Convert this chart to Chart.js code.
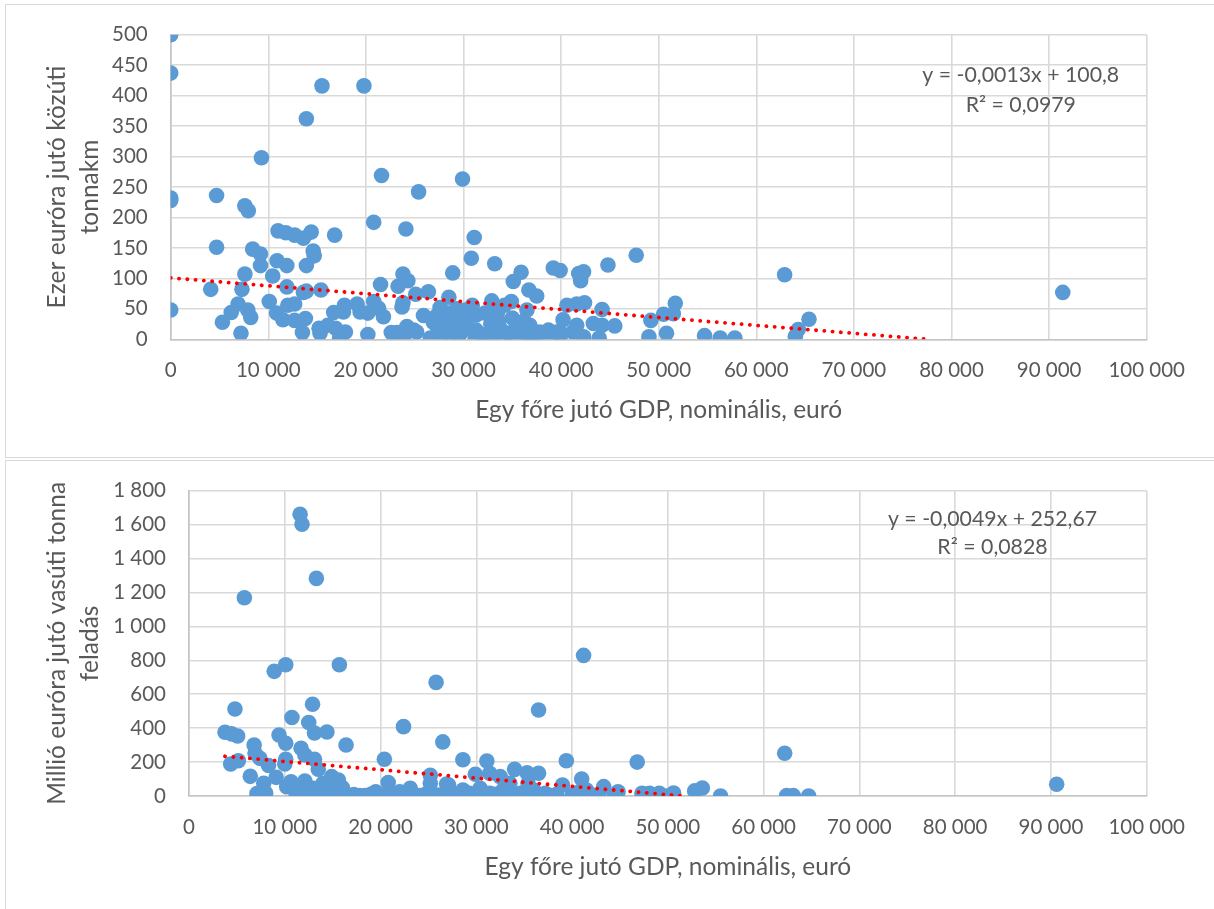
<!DOCTYPE html>
<html>
<head>
<meta charset="utf-8">
<script src="https://cdn.jsdelivr.net/npm/chart.js@4.4.1/dist/chart.umd.min.js"></script>
<style>
  html, body { margin: 0; padding: 0; background: #ffffff; }
  body { width: 1214px; height: 909px; overflow: hidden; position: relative; }
  .frame { position: absolute; border: 1.5px solid #d9d9d9; box-sizing: border-box; }
  .holder { position: absolute; left: 0; }
  canvas { display: block; }
</style>
</head>
<body>
<div class="frame" style="left:5px; top:4px; width:1240px; height:454px;"></div>
<div class="frame" style="left:5px; top:460px; width:1240px; height:470px;"></div>
<div class="holder" style="top:0; width:1214px; height:457px;"><canvas id="road" width="1214" height="457"></canvas></div>
<div class="holder" style="top:461px; width:1214px; height:448px;"><canvas id="rail" width="1214" height="448"></canvas></div>
<script>
// ---- Közúti áruszállítás: GDP/fő (euró) és ezer euróra jutó tonnakm ----
const roadGdp = [
  0, 0, 0, 0, 0, 4100, 4700, 4700, 5300, 6200, 6900, 7200, 7300, 7600, 7950, 7600, 7900, 8200, 8400, 9200,
  9200, 9300, 10100, 10450, 10850, 10900, 11000, 11500, 11800, 11900, 11900, 12000, 12700, 12700, 12700, 13500, 13600, 13600, 13800, 13900,
  13900, 13900, 14400, 14600, 14700, 15200, 15300, 15400, 15500, 16100, 16700, 16800, 16900, 17300, 17700, 17800, 17900, 19100, 19400, 19800,
  20200, 20200, 20800, 20800, 21300, 21500, 21600, 21800, 22600, 23200, 23300, 23700, 23800, 23800, 24100, 24100, 24200, 24300, 24900, 25100,
  25200, 25400, 25900, 26400, 26600, 26900, 27200, 27300, 27600, 27800, 28000, 28400, 28500, 28600, 28600, 28900, 29000, 29300, 29300, 29500,
  29800, 29900, 30000, 30200, 30400, 30800, 30900, 31100, 31200, 31300, 31300, 31800, 32200, 32400, 32800, 32900, 33000, 33200, 33500, 33600,
  33900, 34200, 34200, 34600, 34900, 34900, 35000, 35100, 35400, 35700, 35800, 35900, 36100, 36200, 36500, 36500, 36700, 36800, 36800, 37300,
  37500, 37800, 38000, 38700, 39200, 39200, 39500, 39900, 39900, 40000, 40200, 40600, 41200, 41600, 41600, 41800, 42000, 42300, 42300, 42400,
  43300, 43900, 44200, 44200, 44800, 45500, 47700, 49000, 49200, 50500, 50800, 51500, 51700, 54700, 56300, 57800, 62900, 64000, 64300, 65400,
  91400
];
const roadTkm = [
  500, 437, 232, 228, 48, 82, 236, 151, 28, 44, 58, 10, 82, 219, 211, 107, 48, 36, 148, 140,
  121, 298, 62, 104, 43, 129, 178, 32, 175, 121, 86, 56, 58, 171, 31, 11, 166, 77, 34, 79,
  121, 362, 176, 145, 137, 18, 10, 81, 416, 23, 44, 171, 18, 2, 45, 56, 12, 58, 45, 416,
  8, 43, 62, 192, 51, 90, 269, 37, 11, 11, 87, 53, 60, 107, 181, 10, 21, 96, 15, 74,
  12, 242, 39, 78, 2, 28, 38, 21, 52, 8, 25, 43, 69, 15, 4, 109, 30, 50, 15, 5,
  12, 263, 37, 48, 22, 133, 56, 167, 2, 40, 15, 8, 43, 2, 25, 63, 5, 124, 45, 30,
  15, 56, 0, 10, 62, 7, 35, 95, 26, 18, 15, 110, 7, 30, 48, 2, 81, 23, 4, 2,
  71, 12, 0, 15, 117, 10, 12, 113, 4, 10, 32, 56, 12, 58, 23, 108, 96, 111, 4, 60,
  26, 2, 49, 23, 122, 22, 138, 4, 31, 41, 10, 42, 59, 6, 2, 2, 106, 5, 16, 33,
  77
];

// ---- Vasúti áruszállítás: GDP/fő (euró) és millió euróra jutó tonna feladás ----
const railGdp = [
  3760, 4350, 4460, 4800, 5080, 5150, 5780, 6400, 6800, 6900, 7100, 8000, 7400, 7800, 8300, 8900, 9100, 9400, 10000, 10100,
  10100, 10100, 10200, 10650, 10750, 11600, 11700, 11800, 12100, 12100, 12300, 12500, 12900, 13100, 13100, 13300, 13300, 13500, 14000, 14400,
  14700, 14900, 15600, 15700, 16400, 20400, 20800, 22400, 23100, 25200, 25200, 25800, 26500, 26900, 27100, 28600, 29900, 31100, 31400, 32500,
  33500, 34000, 35300, 35400, 36500, 36500, 37200, 39000, 39400, 41000, 41200, 41500, 43300, 44400, 44800, 46800, 47300, 48100, 49100, 49900,
  50600, 52800, 53600, 55500, 62200, 62400, 63100, 64700, 90600,
  11000, 11200, 11800, 11900, 12000, 12800, 13000, 13700, 14200, 14300, 14900, 15200, 15400, 16000, 16100, 16600, 17200, 17800, 18400, 19000,
  19500, 19600, 20300, 20900, 21500, 22000, 22200, 22800, 23100, 23500, 24100, 24700, 25300, 26000, 26600, 27300, 28000, 28600, 28700, 29300,
  29300, 30000, 30400, 30600, 31200, 31400, 31900, 32600, 32800, 33200, 33900, 34600, 34600, 35200, 36000, 36000, 36800, 37800, 38400, 40000,
  40600, 42000, 42800
];
const railTonnes = [
  376, 189, 366, 513, 354, 208, 1169, 116, 301, 252, 14, 18, 222, 75, 180, 735, 110, 360, 189, 216,
  311, 774, 55, 84, 463, 1661, 281, 1602, 242, 88, 25, 433, 541, 216, 371, 1283, 35, 158, 75, 377,
  55, 114, 94, 774, 301, 217, 79, 409, 45, 122, 75, 670, 319, 71, 65, 214, 128, 206, 134, 114,
  75, 157, 137, 75, 134, 507, 16, 65, 208, 100, 829, 35, 55, 0, 25, 200, 16, 16, 16, 0,
  18, 30, 47, 0, 252, 2, 2, 0, 69,
  40, 5, 10, 55, 2, 5, 45, 3, 8, 30, 2, 35, 5, 50, 2, 3, 8, 2, 3, 10,
  25, 2, 5, 15, 3, 25, 5, 2, 35, 8, 3, 10, 2, 5, 3, 10, 2, 35, 8, 16,
  3, 5, 45, 15, 2, 16, 10, 3, 35, 20, 5, 12, 16, 2, 25, 35, 5, 3, 10, 5,
  20, 8, 2
];

// ---- Tengelyek és feliratok ----
const xTicks = [0, 10000, 20000, 30000, 40000, 50000, 60000, 70000, 80000, 90000, 100000];
const roadYTicks = [0, 50, 100, 150, 200, 250, 300, 350, 400, 450, 500];
const railYTicks = [0, 200, 400, 600, 800, 1000, 1200, 1400, 1600, 1800];
const xTitle = 'Egy főre jutó GDP, nominális, euró';
const roadYTitle = ['Ezer euróra jutó közúti', 'tonnakm'];
const railYTitle = ['Millió euróra jutó vasúti tonna', 'feladás'];

// Lineáris trend (y = m·x + b) és R²
const roadTrend = { m: -0.0013, b: 100.8, label: ['y = -0,0013x + 100,8', 'R² = 0,0979'] };
const railTrend = { m: -0.0049, b: 252.67, label: ['y = -0,0049x + 252,67', 'R² = 0,0828'] };
// the equation label is anchored in data units: centre x, then y of each line
const roadTrendLabelAt = { x: 87100, y: [434, 384] };
const railTrendLabelAt = { x: 83900, y: [1631, 1466] };

const TEXT = '#595959';
const FONT = 'Lato';
const fmt = v => String(v).replace(/\B(?=(\d{3})+(?!\d))/g, ' ');

function trendPoints(xs, t) {
  const x0 = Math.min(...xs);
  const zeroAt = -t.b / t.m;
  const x1 = Math.min(Math.max(...xs), zeroAt);
  return [{ x: x0, y: t.m * x0 + t.b }, { x: x1, y: t.m * x1 + t.b }];
}

const trendLabelPlugin = {
  id: 'trendLabel',
  afterDraw(chart, args, opts) {
    const { ctx, scales } = chart;
    ctx.save();
    ctx.font = `${opts.size}px ${FONT}`;
    ctx.fillStyle = TEXT;
    ctx.textAlign = 'center';
    ctx.textBaseline = 'middle';
    const px = scales.x.getPixelForValue(opts.at.x);
    opts.lines.forEach((line, i) => {
      ctx.fillText(line, px, scales.y.getPixelForValue(opts.at.y[i]));
    });
    ctx.restore();
  }
};

function makeChart(id, cfg) {
  const canvas = document.getElementById(id);
  const W = canvas.width, H = canvas.height;
  const area = cfg.area;              // plot area inside the canvas
  const xAxisH = 92;                  // room below the plot for tick labels + title
  const titleSize = 24.5, titleLH = 1.2;
  return new Chart(canvas, {
    type: 'scatter',
    data: {
      datasets: [
        {
          type: 'line',
          data: trendPoints(cfg.xs, cfg.trend),
          borderColor: '#ff0000',
          borderWidth: 3.8,
          borderDash: [0.1, 8.2],
          borderCapStyle: 'round',
          pointRadius: 0,
          fill: false,
          order: 0
        },
        {
          data: cfg.xs.map((x, i) => ({ x, y: cfg.ys[i] })),
          backgroundColor: '#5b9bd5',
          borderWidth: 0,
          pointRadius: 7.8,
          pointHoverRadius: 7.8,
          order: 1
        }
      ]
    },
    options: {
      responsive: false,
      animation: false,
      events: [],
      layout: { padding: { left: 0, top: area.top, right: W - area.right, bottom: H - area.bottom - xAxisH } },
      plugins: {
        legend: { display: false },
        tooltip: { enabled: false },
        trendLabel: { lines: cfg.trend.label, at: cfg.labelAt, size: 21.3 }
      },
      scales: {
        x: {
          type: 'linear', min: 0, max: 100000,
          afterBuildTicks: s => { s.ticks = xTicks.map(v => ({ value: v })); },
          afterFit: s => { s.height = xAxisH; s.paddingLeft = 0; s.paddingRight = 0; },
          ticks: { callback: v => fmt(v), color: TEXT, font: { family: FONT, size: 20.5 }, padding: 19, maxRotation: 0, autoSkip: false },
          grid: { color: '#d9d9d9', lineWidth: 1.6, drawTicks: false },
          border: { color: '#c4c4c4', width: 1.6 },
          title: {
            display: true, text: xTitle, color: TEXT,
            font: { family: FONT, size: titleSize, lineHeight: titleLH },
            padding: { top: 0, bottom: xAxisH - 71 - titleSize * titleLH / 2 }
          }
        },
        y: {
          type: 'linear', min: 0, max: cfg.yMax,
          afterBuildTicks: s => { s.ticks = cfg.yTicks.map(v => ({ value: v })); },
          afterFit: s => { s.width = area.left; s.paddingTop = 0; s.paddingBottom = 0; },
          ticks: { callback: v => fmt(v), color: TEXT, font: { family: FONT, size: 20.5 }, padding: 23 },
          grid: { color: '#d9d9d9', lineWidth: 1.6, drawTicks: false },
          border: { color: '#c4c4c4', width: 1.6 },
          title: {
            display: true, text: cfg.yTitle, color: TEXT,
            font: { family: FONT, size: titleSize, lineHeight: 33 / titleSize },
            padding: { top: 57 - 33 / 2, bottom: 0 }
          }
        }
      }
    },
    plugins: [trendLabelPlugin]
  });
}

function draw() {
  makeChart('road', {
    area: { left: 170.7, top: 34.7, right: 1146.7, bottom: 339.3 },
    xs: roadGdp, ys: roadTkm, yMax: 500, yTicks: roadYTicks,
    yTitle: roadYTitle, trend: roadTrend, labelAt: roadTrendLabelAt
  });
  makeChart('rail', {
    area: { left: 189, top: 29.7, right: 1146.7, bottom: 335 },
    xs: railGdp, ys: railTonnes, yMax: 1800, yTicks: railYTicks,
    yTitle: railYTitle, trend: railTrend, labelAt: railTrendLabelAt
  });
}

if (document.fonts && document.fonts.load) {
  document.fonts.load(`20px ${FONT}`).then(draw, draw);
} else {
  draw();
}
</script>
</body>
</html>
